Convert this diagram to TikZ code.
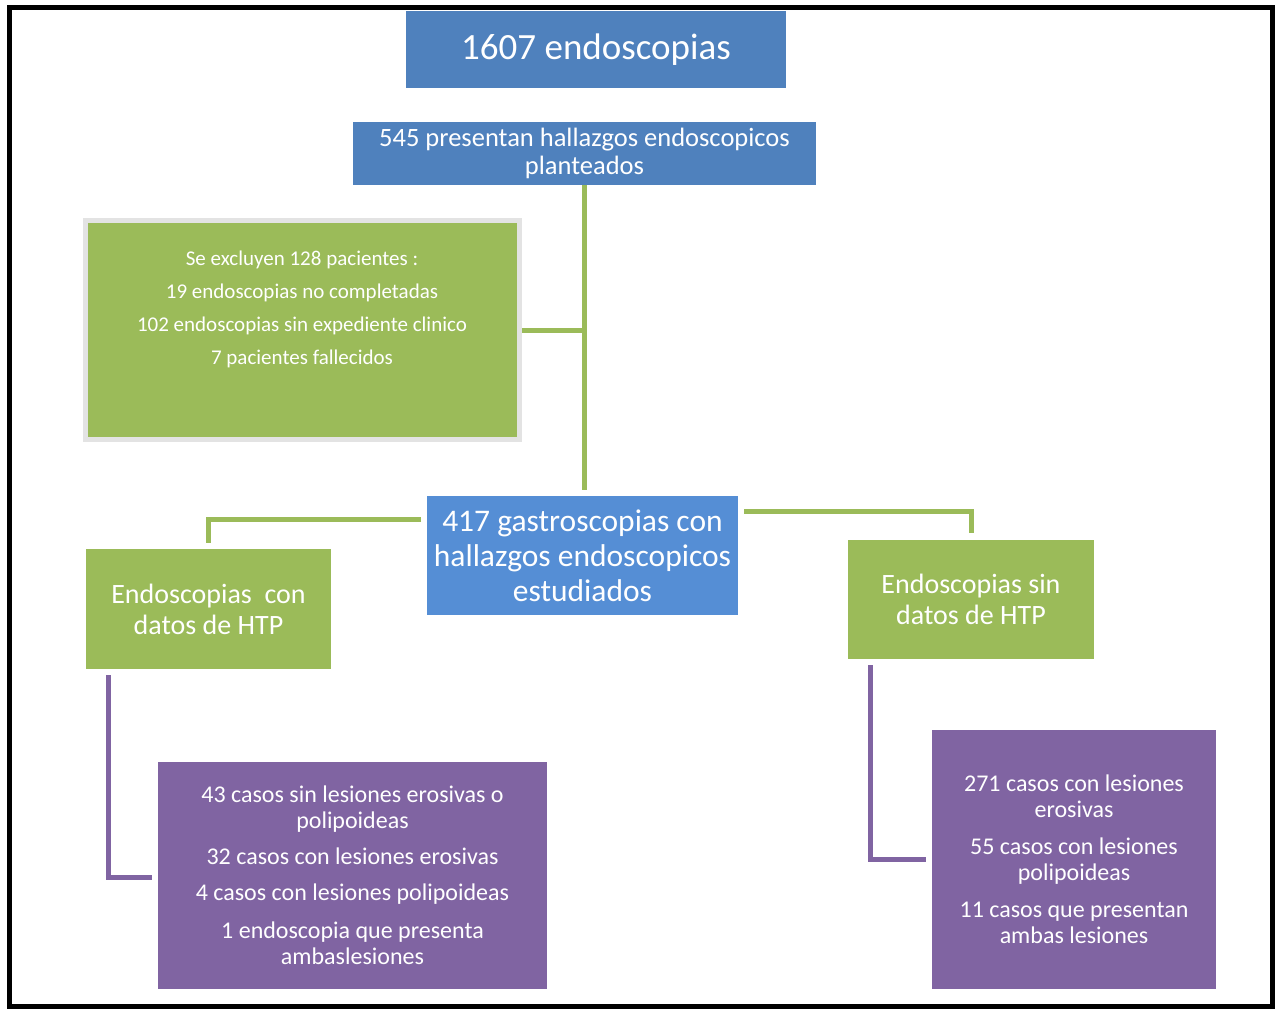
\documentclass[tikz,border=0pt]{standalone}
\usepackage{fontspec}
\setmainfont{Carlito}
\usetikzlibrary{calc}
\definecolor{blueA}{HTML}{4F81BD}
\definecolor{blueB}{HTML}{558ED5}
\definecolor{greenA}{HTML}{9BBB59}
\definecolor{purpleA}{HTML}{8064A2}
\definecolor{grayB}{HTML}{E3E3E3}
\begin{document}
\begin{tikzpicture}[x=1pt,y=-1pt,
  box/.style={rectangle,inner sep=0pt,outer sep=0pt,anchor=north west,text=white,align=center},
  gline/.style={draw=greenA,line width=5pt},
  pline/.style={draw=purpleA,line width=5pt},
  fA/.style={font=\fontsize{37}{40}\selectfont},
  fB/.style={font=\fontsize{26.5}{28}\selectfont},
  fC/.style={font=\fontsize{21}{23}\selectfont},
  fD/.style={font=\fontsize{31.5}{35}\selectfont},
  fE/.style={font=\fontsize{28}{31}\selectfont},
  fF/.style={font=\fontsize{24}{26}\selectfont}]
\useasboundingbox (0,0) rectangle (1279,1009);
\draw[line width=4.5pt] (9.3,7.7) rectangle (1272.5,1006.5);

\node[box,fill=blueA,fA,minimum width=380,minimum height=77] (b1607) at (406,11) {1607 endoscopias};
\node[box,fill=blueA,fB,minimum width=463,minimum height=63] (b545) at (353,122) {545 presentan hallazgos endoscopicos\\planteados};
\node[box,fill=greenA,draw=grayB,line width=5pt,minimum width=434,minimum height=219] (excl) at (85.5,220.5) {};
\node[text=white,align=center,fC,inner sep=0pt] (exclT) at (302,309) {Se excluyen 128 pacientes :\\[10pt]19 endoscopias no completadas\\[10pt]102 endoscopias sin expediente clinico\\[10pt]7 pacientes fallecidos};
\node[box,fill=blueB,fD,minimum width=311,minimum height=119] (b417) at (427,496) {417 gastroscopias con\\hallazgos endoscopicos\\estudiados};
\node[box,fill=greenA,fE,minimum width=245,minimum height=120] (gL) at (86,549) {Endoscopias\ \ con\\datos de HTP};
\node[box,fill=greenA,fE,minimum width=246,minimum height=119] (gR) at (848,540) {Endoscopias sin\\datos de HTP};
\node[box,fill=purpleA,fF,minimum width=389,minimum height=227] (pL) at (158,762) {43 casos sin lesiones erosivas o\\polipoideas\\[10pt]32 casos con lesiones erosivas\\[10pt]4 casos con lesiones polipoideas\\[12pt]1 endoscopia que presenta\\ambaslesiones};
\node[box,fill=purpleA,fF,minimum width=284,minimum height=259] (pR) at (932,730) {271 casos con lesiones\\erosivas\\[11pt]55 casos con lesiones\\polipoideas\\[11pt]11 casos que presentan\\ambas lesiones};

\draw[gline,shorten >=6pt] (b545.south) -- (b545.south |- b417.north);
\draw[gline,shorten <=2.5pt] (excl.east) -- (excl.east -| b545.south);
\draw[gline] ($(b417.north west)+(-6,23)$) -| ($(gL.north)+(0,-6)$);
\draw[gline] ($(b417.north east)+(6,15)$) -| ($(gR.north)+(0,-7)$);
\draw[pline] ($(gL.south west)+(22,6)$) |- ($(pL.west)+(-6,1.5)$);
\draw[pline] ($(gR.south west)+(22,6)$) |- ($(pR.west)+(-6,0)$);
\end{tikzpicture}
\end{document}
